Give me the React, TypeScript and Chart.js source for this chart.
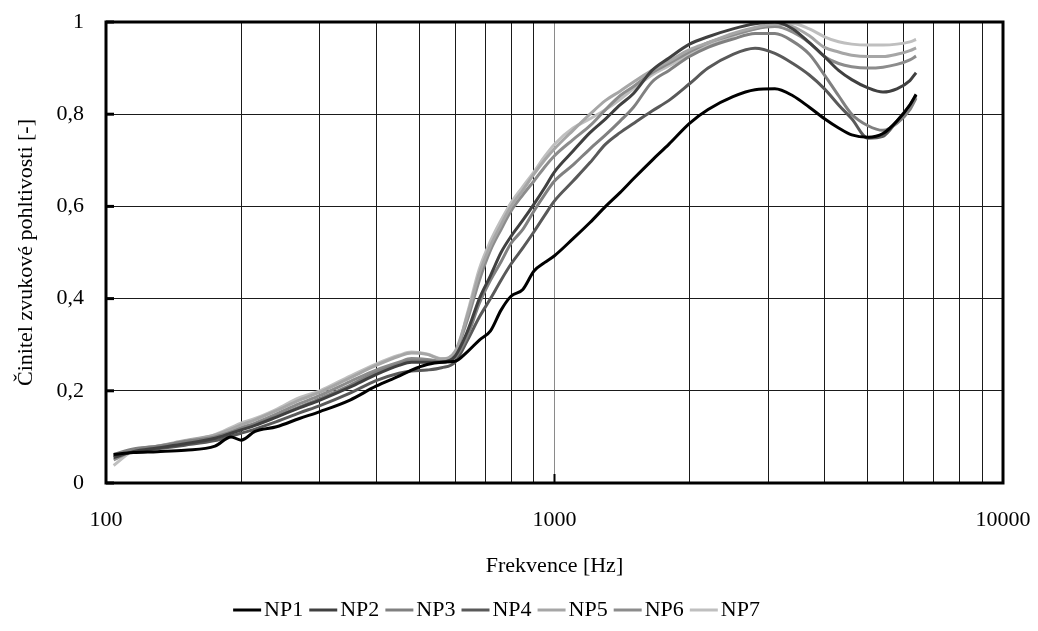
import { useEffect, useRef } from "react";
import { Chart, registerables } from "chart.js";

Chart.register(...registerables);

// Frequencies [Hz]
const freqs = [
  104, 115, 130, 150, 175, 190, 200, 215, 240, 270, 300, 350, 400, 450, 480, 520, 560, 600,
  640, 680, 720, 760, 800, 850, 900, 950, 1000, 1100, 1200, 1300, 1400, 1500, 1650, 1800, 2000,
  2200, 2500, 2800, 3100, 3400, 3700, 4000, 4300, 4600, 5000, 5400, 5800, 6200, 6400,
];

const np1 = [
  0.062, 0.066, 0.068, 0.071, 0.08, 0.1, 0.093, 0.112, 0.122, 0.14, 0.155, 0.18, 0.21, 0.232, 0.245, 0.257, 0.262, 0.264,
  0.285, 0.31, 0.33, 0.375, 0.405, 0.42, 0.46, 0.478, 0.493, 0.53, 0.565, 0.6, 0.63, 0.66, 0.7, 0.735, 0.78,
  0.81, 0.838, 0.853, 0.855, 0.84, 0.815, 0.79, 0.77, 0.755, 0.75, 0.758, 0.785, 0.82, 0.843,
];
const np2 = [
  0.055, 0.068, 0.076, 0.085, 0.097, 0.108, 0.115, 0.125, 0.143, 0.163, 0.18, 0.208, 0.235, 0.255, 0.262, 0.262, 0.262, 0.275,
  0.33, 0.4, 0.45, 0.5, 0.535, 0.57, 0.605, 0.64, 0.675, 0.72, 0.76, 0.79, 0.82, 0.845, 0.895, 0.922, 0.952,
  0.968, 0.985, 0.996, 1.0, 0.985, 0.955, 0.925, 0.895, 0.875, 0.857, 0.848, 0.855, 0.873, 0.89,
];
const np3 = [
  0.062, 0.074, 0.08, 0.09, 0.1, 0.11, 0.118, 0.128, 0.145, 0.165, 0.183, 0.212, 0.24, 0.258, 0.265, 0.265, 0.263, 0.272,
  0.32, 0.39, 0.44, 0.48, 0.52, 0.55, 0.59, 0.625, 0.655, 0.69, 0.725, 0.755, 0.785, 0.815, 0.87, 0.895, 0.925,
  0.945, 0.963, 0.975, 0.975, 0.958, 0.93, 0.885, 0.84, 0.8, 0.775, 0.765, 0.78, 0.81, 0.835,
];
const np4 = [
  0.058, 0.068, 0.074, 0.082, 0.092, 0.102, 0.108, 0.117, 0.133, 0.152, 0.168, 0.195, 0.222, 0.238, 0.243, 0.245, 0.25, 0.262,
  0.31, 0.36, 0.4, 0.44, 0.475, 0.51, 0.545, 0.58, 0.612, 0.655, 0.695, 0.735, 0.76, 0.78, 0.807, 0.83, 0.866,
  0.9, 0.93, 0.943, 0.932, 0.91, 0.885, 0.855, 0.82, 0.79, 0.748, 0.752, 0.785, 0.82, 0.84,
];
const np5 = [
  0.06, 0.072, 0.08, 0.092, 0.104, 0.117, 0.126, 0.137, 0.157, 0.18, 0.197, 0.228, 0.255, 0.275, 0.282, 0.279, 0.269, 0.285,
  0.365, 0.455, 0.515, 0.56, 0.6, 0.635, 0.67, 0.7, 0.725, 0.765, 0.8, 0.83, 0.85, 0.87, 0.895, 0.915, 0.94,
  0.955, 0.975, 0.988, 0.995, 0.99, 0.97, 0.945, 0.935, 0.928, 0.925, 0.925, 0.93, 0.938, 0.944,
];
const np6 = [
  0.05, 0.07, 0.078, 0.088, 0.1, 0.112, 0.12, 0.13, 0.15, 0.172, 0.19, 0.22, 0.245, 0.262, 0.27, 0.268, 0.264, 0.282,
  0.355, 0.44, 0.505, 0.55, 0.59, 0.625, 0.655, 0.685, 0.71, 0.745, 0.775, 0.81, 0.84, 0.86, 0.89, 0.91, 0.935,
  0.955, 0.972, 0.985, 0.99, 0.978, 0.955, 0.925, 0.91, 0.903, 0.9, 0.902, 0.908, 0.918, 0.926,
];
const np7 = [
  0.038, 0.07, 0.08, 0.09, 0.105, 0.12, 0.13, 0.14, 0.16, 0.185, 0.2, 0.232, 0.258, 0.277, 0.284, 0.28, 0.27, 0.28,
  0.37, 0.465, 0.525, 0.57, 0.608, 0.643, 0.675, 0.708, 0.735, 0.77, 0.79, 0.81, 0.832, 0.855, 0.885, 0.905, 0.93,
  0.95, 0.97, 0.985, 0.995, 0.997, 0.985, 0.968, 0.957, 0.952, 0.95, 0.95, 0.952, 0.957, 0.962,
];

const seriesNames = ["NP1", "NP2", "NP3", "NP4", "NP5", "NP6", "NP7"];
const seriesValues = [np1, np2, np3, np4, np5, np6, np7];
const seriesColors = ["#000000", "#404040", "#808080", "#595959", "#a6a6a6", "#8c8c8c", "#bfbfbf"];

const xGridValues = [
  100, 200, 300, 400, 500, 600, 700, 800, 900, 1000, 2000, 3000, 4000, 5000, 6000, 7000, 8000, 9000, 10000,
];
const xTickLabels = [100, 1000, 10000];
const yTickValues = [0, 0.2, 0.4, 0.6, 0.8, 1];

const FONT_FAMILY = "'Liberation Serif', 'Times New Roman', serif";
const FONT_SIZE = 22;

// Legend sample: a line image offset so it sits just before the label text
function makeLegendLine(color: string): HTMLCanvasElement {
  const c = document.createElement("canvas");
  c.width = 36;
  c.height = 6;
  const g = c.getContext("2d");
  if (g) {
    g.strokeStyle = color;
    g.lineWidth = 3;
    g.beginPath();
    g.moveTo(3, 3);
    g.lineTo(31, 3);
    g.stroke();
  }
  return c;
}

export default function App() {
  const canvasRef = useRef<HTMLCanvasElement>(null);

  useEffect(() => {
    const canvas = canvasRef.current;
    if (!canvas) return;

    const datasets = seriesNames.map((name, i) => ({
      label: name,
      data: freqs.map((f, j) => ({ x: f, y: seriesValues[i][j] })),
      borderColor: seriesColors[i],
      backgroundColor: seriesColors[i],
      borderWidth: 3,
      pointRadius: 0,
      pointStyle: makeLegendLine(seriesColors[i]),
      tension: 0.4,
      cubicInterpolationMode: "monotone" as const,
    }));

    const framePlugin = {
      id: "frame",
      afterDatasetsDraw(chart: any) {
        const { ctx, chartArea, scales } = chart;
        const { left, top, right, bottom } = chartArea;
        ctx.save();
        ctx.strokeStyle = "#000";
        ctx.lineWidth = 3;
        ctx.strokeRect(left, top, right - left, bottom - top);
        yTickValues.forEach((v) => {
          const y = scales.y.getPixelForValue(v);
          ctx.beginPath();
          ctx.moveTo(left, y);
          ctx.lineTo(left + 8, y);
          ctx.stroke();
        });
        ctx.lineWidth = 2;
        const x1000 = scales.x.getPixelForValue(1000);
        ctx.beginPath();
        ctx.moveTo(x1000, bottom);
        ctx.lineTo(x1000, bottom - 9);
        ctx.stroke();
        ctx.restore();
      },
    };

    const font = { family: FONT_FAMILY, size: FONT_SIZE };

    const chart = new Chart(canvas, {
      type: "line",
      data: { datasets },
      options: {
        responsive: false,
        animation: false,
        devicePixelRatio: 1,
        layout: { padding: { left: 0, right: 35, top: 22, bottom: 0 } },
        plugins: {
          legend: {
            position: "bottom",
            labels: {
              usePointStyle: true,
              pointStyleWidth: 10,
              padding: 16,
              color: "#000",
              font,
            },
          },
          tooltip: { enabled: false },
        },
        scales: {
          x: {
            type: "logarithmic",
            min: 100,
            max: 10000,
            afterBuildTicks: (scale: any) => {
              scale.ticks = xGridValues.map((v) => ({ value: v }));
            },
            afterFit: (scale: any) => {
              scale.height = 100;
              scale.paddingLeft = 0;
              scale.paddingRight = 0;
            },
            ticks: {
              autoSkip: false,
              maxRotation: 0,
              padding: 24,
              color: "#000",
              font,
              callback: (value: any) => (xTickLabels.includes(Number(value)) ? String(value) : ""),
            },
            grid: {
              drawTicks: false,
              lineWidth: 1,
              color: (ctx: any) => (ctx.tick && ctx.tick.value === 1000 ? "#8a8a8a" : "#1a1a1a"),
            },
            border: { display: false },
            title: {
              display: true,
              text: "Frekvence [Hz]",
              color: "#000",
              font,
              padding: { top: 4, bottom: 4 },
            },
          },
          y: {
            type: "linear",
            min: 0,
            max: 1,
            afterBuildTicks: (scale: any) => {
              scale.ticks = yTickValues.map((v) => ({ value: v }));
            },
            afterFit: (scale: any) => {
              scale.width = 106;
              scale.paddingTop = 0;
              scale.paddingBottom = 0;
            },
            ticks: {
              padding: 22,
              color: "#000",
              font,
              callback: (value: any) => String(Math.round(Number(value) * 10) / 10).replace(".", ","),
            },
            grid: { drawTicks: false, lineWidth: 1, color: "#1a1a1a" },
            border: { display: false },
            title: {
              display: true,
              text: "Činitel zvukové pohltivosti [-]",
              color: "#000",
              font,
              padding: { top: 13, bottom: 0 },
            },
          },
        },
      },
      plugins: [framePlugin],
    });

    return () => chart.destroy();
  }, []);

  return (
    <div style={{ position: "absolute", left: 0, top: 0, width: 1038, height: 631, background: "#fff" }}>
      <canvas ref={canvasRef} width={1038} height={631} style={{ width: 1038, height: 631, display: "block" }} />
    </div>
  );
}
